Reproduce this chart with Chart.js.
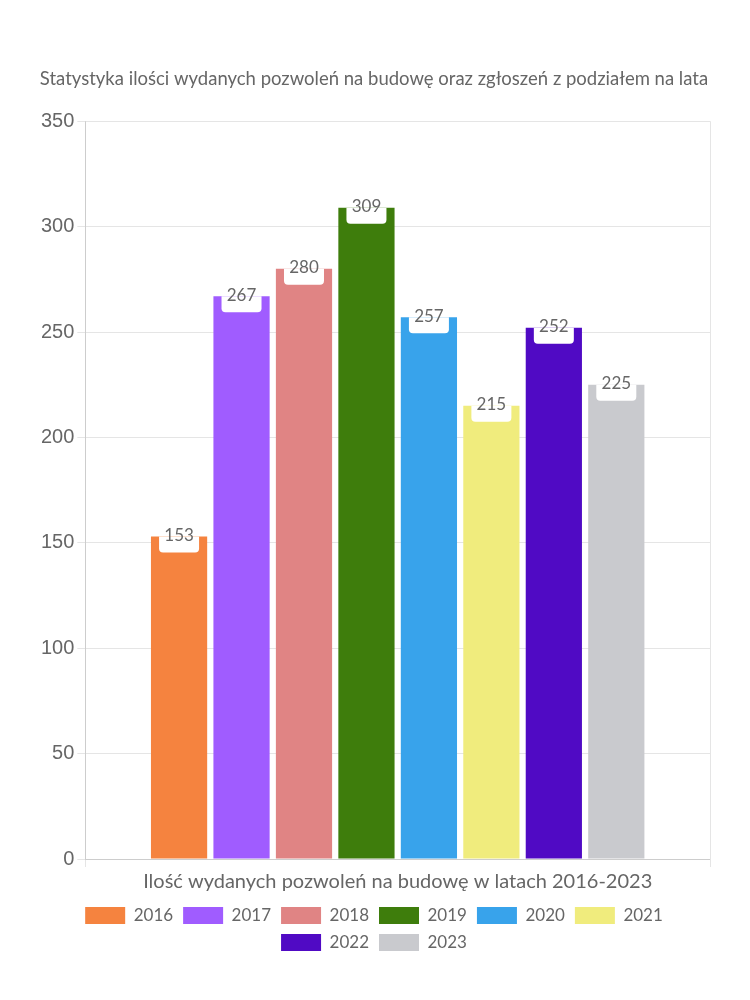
<!DOCTYPE html>
<html>
<head>
<meta charset="utf-8">
<script src="https://cdn.jsdelivr.net/npm/chart.js@4"></script>
<style>
  body { margin: 0; background: #fff; }
  #wrap { width: 750px; height: 1000px; }
</style>
</head>
<body>
<div id="wrap"><canvas id="chartPozwolenia"></canvas></div>
<script>
const kategorie = ['Ilość wydanych pozwoleń na budowę w latach 2016-2023'];
const lata = ['2016', '2017', '2018', '2019', '2020', '2021', '2022', '2023'];
const wartosci = [153, 267, 280, 309, 257, 215, 252, 225];
const kolory = ['#F5833F', '#A05CFF', '#E08484', '#3E7D0C', '#38A3EB', '#F0EC7D', '#500AC4', '#C9CACE'];

const fontGlowny = 'Lato, "Noto Sans", sans-serif';

// etykiety z wartościami w białych ramkach na szczycie słupków
const etykiety = {
  id: 'etykiety',
  afterDatasetsDraw(chart) {
    const ctx = chart.ctx;
    chart.data.datasets.forEach((ds, i) => {
      const meta = chart.getDatasetMeta(i);
      meta.data.forEach((bar, j) => {
        const x = bar.x, y = bar.y;
        const w = 40, h = 16, r = 4;
        ctx.save();
        ctx.fillStyle = '#fff';
        ctx.beginPath();
        ctx.moveTo(x - w / 2, y);
        ctx.lineTo(x + w / 2, y);
        ctx.lineTo(x + w / 2, y + h - r);
        ctx.quadraticCurveTo(x + w / 2, y + h, x + w / 2 - r, y + h);
        ctx.lineTo(x - w / 2 + r, y + h);
        ctx.quadraticCurveTo(x - w / 2, y + h, x - w / 2, y + h - r);
        ctx.closePath();
        ctx.fill();
        ctx.fillStyle = '#666';
        ctx.font = '17px ' + fontGlowny;
        ctx.textAlign = 'center';
        ctx.textBaseline = 'middle';
        ctx.fillText(ds.data[j], x, y - 1);
        ctx.restore();
      });
    });
  }
};

const ctx = document.getElementById('chartPozwolenia').getContext('2d');
new Chart(ctx, {
  type: 'bar',
  data: {
    labels: kategorie,
    datasets: lata.map((rok, i) => ({
      label: rok,
      data: [wartosci[i]],
      backgroundColor: kolory[i],
      borderWidth: 0
    }))
  },
  options: {
    responsive: true,
    maintainAspectRatio: false,
    animation: false,
    layout: { padding: { left: 38, right: 40, top: 68, bottom: 39 } },
    scales: {
      x: {
        grid: { color: '#e5e5e5' },
        ticks: { color: '#666', font: { family: fontGlowny, size: 20 } }
      },
      y: {
        beginAtZero: true,
        min: 0,
        max: 350,
        ticks: { stepSize: 50, color: '#666', font: { family: 'Arial, "Liberation Sans", sans-serif', size: 20 } },
        grid: { color: '#e5e5e5' }
      }
    },
    plugins: {
      title: {
        display: true,
        text: 'Statystyka ilości wydanych pozwoleń na budowę oraz zgłoszeń z podziałem na lata',
        color: '#666',
        font: { family: fontGlowny, size: 18.5, weight: 'normal' },
        padding: { top: 0, bottom: 31 }
      },
      legend: {
        display: true,
        position: 'bottom',
        labels: {
          boxWidth: 40,
          boxHeight: 17,
          color: '#666',
          font: { family: fontGlowny, size: 17 }
        }
      },
      tooltip: { enabled: false }
    }
  },
  plugins: [etykiety]
});
</script>
</body>
</html>
